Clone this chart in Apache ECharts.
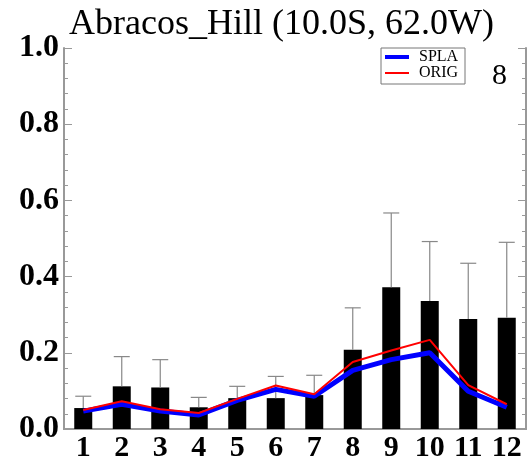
<!DOCTYPE html>
<html><head><meta charset="utf-8">
<script src="https://cdn.jsdelivr.net/npm/echarts@6/dist/echarts.min.js"></script>
<style>html,body{margin:0;padding:0;background:#fff}#c{width:530px;height:463px}</style>
</head><body><div id="c"></div>
<script>
var months = ['1','2','3','4','5','6','7','8','9','10','11','12'];
var barValues = [0.055,0.112,0.109,0.057,0.081,0.081,0.089,0.208,0.372,0.336,0.289,0.292];
var errTop = [0.086,0.190,0.182,0.083,0.112,0.138,0.141,0.318,0.567,0.492,0.435,0.490];
var splaValues = [0.047,0.065,0.047,0.037,0.075,0.104,0.086,0.154,0.182,0.200,0.099,0.057];
var origValues = [0.050,0.073,0.052,0.042,0.079,0.114,0.091,0.176,0.206,0.234,0.115,0.065];
var yTicks = [0,0.2,0.4,0.6,0.8,1.0];

var chart = echarts.init(document.getElementById('c'));
var serif = '"Liberation Serif","DejaVu Serif",serif';
var axisGray = '#999';
var errData = months.map(function(m,i){return [i, barValues[i], errTop[i]];});
chart.setOption({
  animation:false,
  title:{text:'Abracos_Hill (10.0S, 62.0W)', left:64, top:2,
    textStyle:{fontFamily:serif, fontWeight:'normal', fontSize:36, color:'#000'}},
  grid:{left:64, right:4, top:48, bottom:31},
  graphic:[
    {type:'rect', shape:{x:381,y:48,width:84,height:36}, style:{fill:'#fff',stroke:'#777',lineWidth:1}, z:100},
    {type:'line', shape:{x1:385,y1:57,x2:409,y2:57}, style:{stroke:'#0000ff',lineWidth:4}, z:101},
    {type:'line', shape:{x1:385,y1:73,x2:409,y2:73}, style:{stroke:'#ff0000',lineWidth:2}, z:101},
    {type:'text', style:{text:'SPLA', x:419, y:49, fontFamily:serif, fontSize:16, fill:'#000'}, z:101},
    {type:'text', style:{text:'ORIG', x:419, y:65, fontFamily:serif, fontSize:16, fill:'#000'}, z:101},
    {type:'text', style:{text:'8', x:492, y:61, fontFamily:serif, fontSize:30, fill:'#000'}, z:101}
  ],
  xAxis:[
    {type:'category', data:months, boundaryGap:true,
     axisLine:{lineStyle:{color:axisGray,width:2}},
     axisTick:{inside:true, alignWithLabel:true, length:5, lineStyle:{color:axisGray}},
     axisLabel:{fontFamily:serif, fontWeight:'bold', fontSize:30, color:'#000', margin:4, interval:0}},
    {type:'category', data:months, boundaryGap:true, position:'top',
     axisLine:{lineStyle:{color:axisGray,width:2}},
     axisTick:{inside:true, alignWithLabel:true, length:5, lineStyle:{color:axisGray}},
     axisLabel:{show:false}}
  ],
  yAxis:[
    {type:'value', min:0, max:1, interval:0.2,
     axisLine:{show:true, lineStyle:{color:axisGray,width:2}},
     axisTick:{show:true, inside:true, length:8, lineStyle:{color:axisGray}},
     minorTick:{show:true, splitNumber:5, length:4, lineStyle:{color:axisGray}},
     splitLine:{show:false},
     axisLabel:{fontFamily:serif, fontWeight:'bold', fontSize:32, color:'#000', margin:5,
       formatter:function(v){return v.toFixed(1);}}},
    {type:'value', min:0, max:1, interval:0.2, position:'right',
     axisLine:{show:true, lineStyle:{color:axisGray,width:2}},
     axisTick:{show:true, inside:true, length:8, lineStyle:{color:axisGray}},
     minorTick:{show:true, splitNumber:5, length:4, lineStyle:{color:axisGray}},
     splitLine:{show:false}, axisLabel:{show:false}}
  ],
  series:[
    {type:'bar', data:barValues, barWidth:18, itemStyle:{color:'#000'}, z:2},
    {type:'custom', data:errData, z:3,
     renderItem:function(params, api){
       var c = api.value(0);
       var p0 = api.coord([c, api.value(1)]);
       var p1 = api.coord([c, api.value(2)]);
       var hw = 8;
       return {type:'group', children:[
         {type:'line', shape:{x1:p0[0],y1:p0[1],x2:p1[0],y2:p1[1]}, style:{stroke:'#888',lineWidth:1.2}},
         {type:'line', shape:{x1:p1[0]-hw,y1:p1[1],x2:p1[0]+hw,y2:p1[1]}, style:{stroke:'#888',lineWidth:1.2}}
       ]};
     }},
    {type:'line', name:'SPLA', data:splaValues, symbol:'none', lineStyle:{color:'#0000ff', width:5}, z:4},
    {type:'line', name:'ORIG', data:origValues, symbol:'none', lineStyle:{color:'#ff0000', width:2}, z:5}
  ]
});
</script></body></html>
